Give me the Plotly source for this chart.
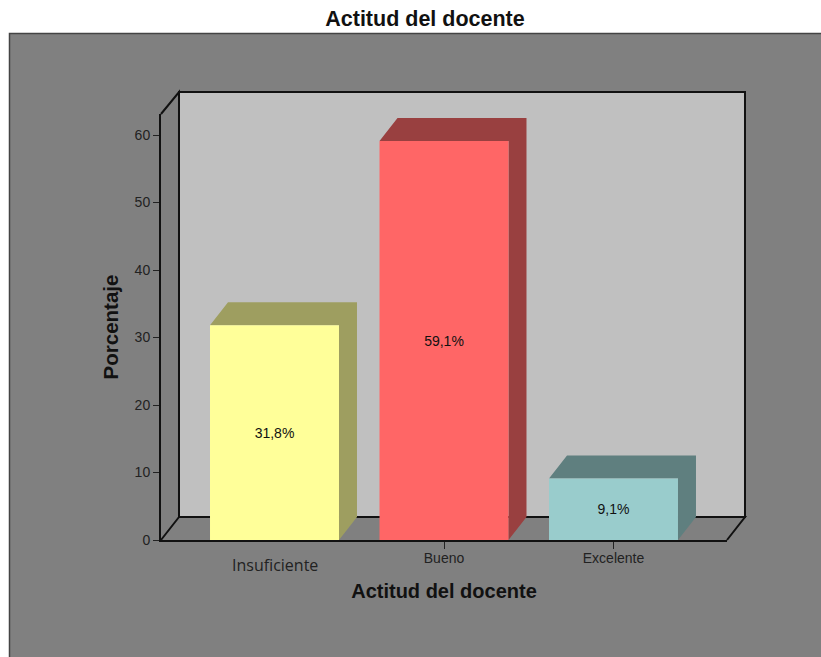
import plotly.graph_objects as go

categories = ["Insuficiente", "Bueno", "Excelente"]
values = [31.8, 59.1, 9.1]
value_labels = ["31,8%", "59,1%", "9,1%"]
front_colors = ["#FFFF99", "#FF6666", "#99CCCC"]
side_colors = ["#9E9E60", "#994040", "#5F7F7F"]
y_ticks = [0, 10, 20, 30, 40, 50, 60]

W, H = 821, 657
L, R, T, B = 161, 727, 114, 540      # front plane of the 3D box, px
DX, DY = 18, 23                      # box depth, px
UNIT_X, UNIT_Y = 169.5, 6.75         # px per category / per percent
X0 = 274.5                           # px centre of first category
BAR_W = 0.761

def px(x):
    return (x - L) / (R - L)

def py(y):
    return (B - y) / (B - T)

def paper_path(points):
    return "M " + " L ".join(f"{px(x):.5f},{py(y):.5f}" for x, y in points) + " Z"

def paper_open(points):
    return "M " + " L ".join(f"{px(x):.5f},{py(y):.5f}" for x, y in points)

shapes = [
    # chart frame
    dict(type="rect", xref="paper", yref="paper", x0=px(9.5), x1=px(W + 5), y0=py(33.5), y1=py(H + 5),
         fillcolor="#808080", line=dict(color="#444444", width=1.5), layer="below"),
    # back wall
    dict(type="path", xref="paper", yref="paper",
         path=paper_path([(L + DX, T - 22), (R + DX, T - 22), (R + DX, B - DY), (L + DX, B - DY)]),
         fillcolor="#C0C0C0", line=dict(color="#111111", width=2), layer="below"),
    # left side and floor edges
    dict(type="path", xref="paper", yref="paper",
         path=paper_open([(L, T), (L + DX, T - 22), (L + DX, B - DY), (L, B)]),
         line=dict(color="#111111", width=2), layer="below"),
    dict(type="path", xref="paper", yref="paper",
         path=paper_open([(L + DX, B - DY), (R + DX, B - DY), (R, B)]),
         line=dict(color="#111111", width=2), layer="below"),
]

dx = DX / UNIT_X
dy = DY / UNIT_Y
for i, v in enumerate(values):
    x0, x1 = i - BAR_W / 2, i + BAR_W / 2
    # depth faces of every bar are derived from its value
    shapes.append(dict(type="path", xref="x", yref="y", layer="below",
                       path=f"M {x0},{v} L {x0 + dx},{v + dy} L {x1 + dx},{v + dy} L {x1 + dx},{dy} "
                            f"L {x1},0 L {x1},{v} Z",
                       fillcolor=side_colors[i], line=dict(width=0)))

fig = go.Figure(go.Bar(
    x=list(range(len(categories))), y=values, width=BAR_W,
    marker=dict(color=front_colors, line=dict(width=0)),
    text=value_labels, textposition="inside", insidetextanchor="middle", textangle=0,
    constraintext="none",
    textfont=dict(family="Liberation Sans", size=14, color="#111111"),
    hoverinfo="skip",
))

fig.update_layout(
    width=W, height=H, autosize=False,
    margin=dict(l=L, r=W - R, t=T, b=H - B, autoexpand=False),
    paper_bgcolor="white", plot_bgcolor="rgba(0,0,0,0)",
    showlegend=False, shapes=shapes,
    title=dict(text="<b>Actitud del docente</b>", x=425 / W, xanchor="center", y=1 - 18 / H, yanchor="middle",
               font=dict(family="Liberation Sans", size=21.5, color="#111111")),
    annotations=[dict(text=categories[0], xref="x", yref="paper", x=0, y=py(565), showarrow=False,
                      xanchor="center", yanchor="middle",
                      font=dict(family="Open Sans", size=16, color="#222222"))],
    xaxis=dict(range=[(L - X0) / UNIT_X, (R - X0) / UNIT_X],
               tickmode="array", tickvals=[1, 2], ticktext=categories[1:],
               ticks="outside", ticklen=7, tickcolor="#222222", tickwidth=1, ticklabelstandoff=-3,
               showline=True, linecolor="#111111", linewidth=2, showgrid=False, zeroline=False,
               layer="below traces",
               tickfont=dict(family="Liberation Sans", size=14, color="#222222"),
               title=dict(text="<b>Actitud del docente</b>", standoff=19,
                          font=dict(family="Liberation Sans", size=20, color="#111111"))),
    yaxis=dict(range=[0, (B - T) / UNIT_Y],
               tickmode="array", tickvals=y_ticks,
               ticks="outside", ticklen=6, tickcolor="#222222", tickwidth=1,
               showline=True, linecolor="#111111", linewidth=2, showgrid=False, zeroline=False,
               layer="below traces",
               tickfont=dict(family="Liberation Sans", size=14, color="#222222"),
               title=dict(text="<b>Porcentaje</b>", standoff=10,
                          font=dict(family="Liberation Sans", size=20.5, color="#111111"))),
)

fig.write_html("out.html", config=dict(displayModeBar=False),
               post_script="document.body.style.margin='0';")
